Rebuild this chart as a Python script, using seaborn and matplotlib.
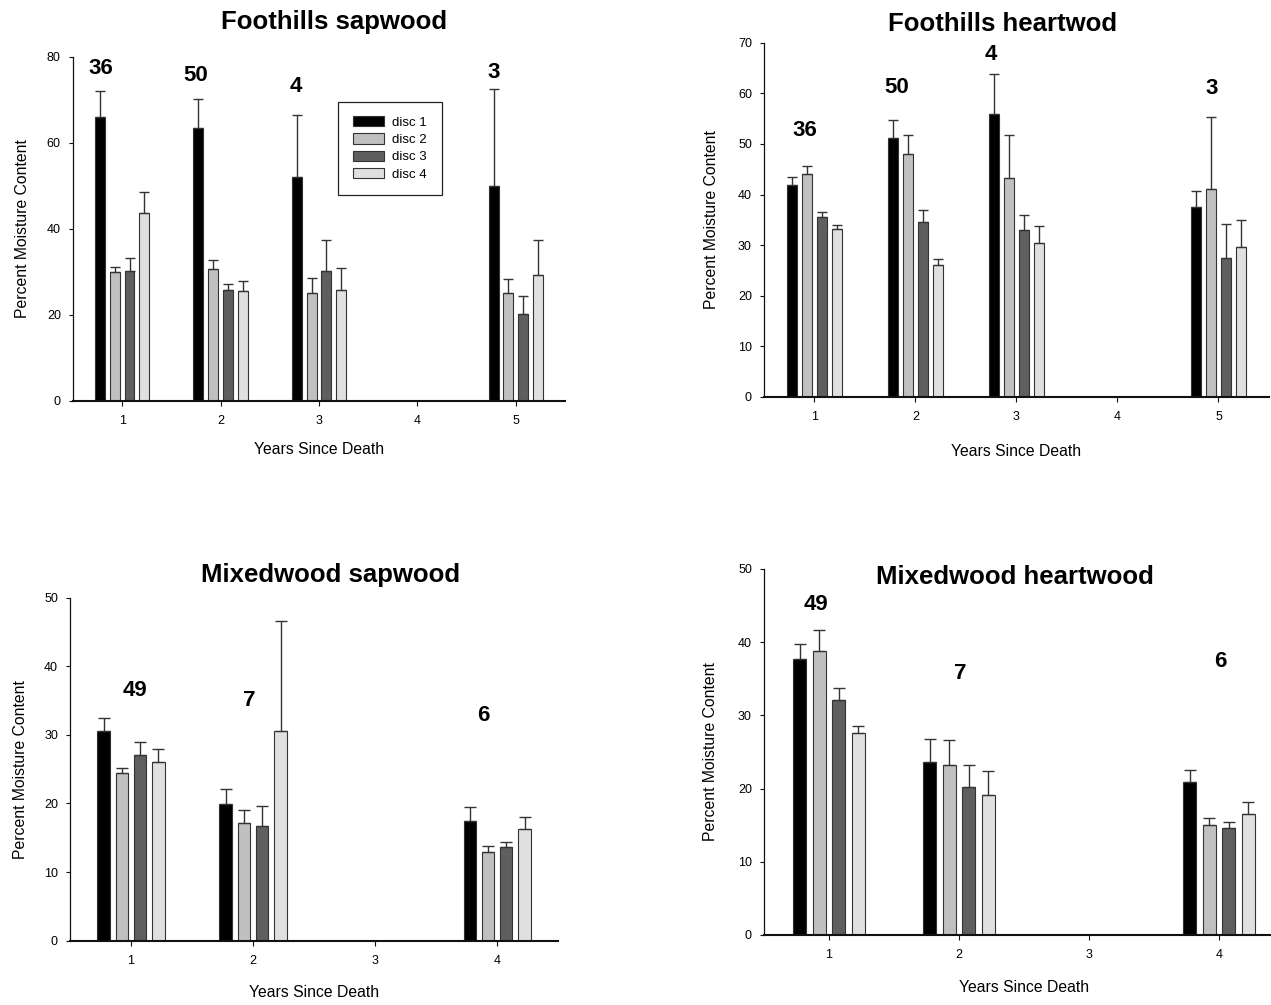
import numpy as np
import pandas as pd
import matplotlib
matplotlib.use("Agg")
import matplotlib.pyplot as plt
import seaborn as sns

# ---------------------------------------------------------------- data
DISCS = ["disc 1", "disc 2", "disc 3", "disc 4"]
DISC_COLORS = ["#000000", "#c0c0c0", "#5f5f5f", "#e0e0e0"]

# Foothills sapwood: mean moisture (%) per disc, rows = disc 1..4, cols = years
fs_categories = [1, 2, 3, 4, 5]
fs_years = [1, 2, 3, 5]
fs_mean = [[66.0, 63.4, 52.0, 50.0],
           [29.9, 30.6, 25.2, 25.0],
           [30.3, 25.9, 30.3, 20.2],
           [43.8, 25.5, 25.9, 29.2]]
fs_se = [[6.2, 6.8, 14.4, 22.5],
         [1.3, 2.2, 3.3, 3.4],
         [2.9, 1.4, 7.2, 4.2],
         [4.8, 2.3, 5.1, 8.3]]
fs_n = [36, 50, 4, 3]

# Foothills heartwood
fh_categories = [1, 2, 3, 4, 5]
fh_years = [1, 2, 3, 5]
fh_mean = [[41.8, 51.2, 55.9, 37.5],
           [44.1, 48.1, 43.2, 41.0],
           [35.5, 34.5, 33.0, 27.5],
           [33.2, 26.1, 30.4, 29.7]]
fh_se = [[1.6, 3.5, 8.0, 3.2],
         [1.5, 3.7, 8.6, 14.3],
         [1.0, 2.4, 2.9, 6.6],
         [0.7, 1.1, 3.4, 5.3]]
fh_n = [36, 50, 4, 3]

# Mixedwood sapwood
ms_categories = [1, 2, 3, 4]
ms_years = [1, 2, 4]
ms_mean = [[30.6, 19.9, 17.5],
           [24.4, 17.1, 12.9],
           [27.0, 16.7, 13.6],
           [26.0, 30.6, 16.3]]
ms_se = [[1.8, 2.2, 2.0],
         [0.8, 2.0, 0.9],
         [1.9, 3.0, 0.8],
         [1.9, 16.0, 1.8]]
ms_n = [49, 7, 6]

# Mixedwood heartwood
mh_categories = [1, 2, 3, 4]
mh_years = [1, 2, 4]
mh_mean = [[37.7, 23.6, 20.9],
           [38.8, 23.2, 15.0],
           [32.1, 20.2, 14.6],
           [27.6, 19.1, 16.5]]
mh_se = [[2.1, 3.1, 1.6],
         [2.9, 3.4, 1.0],
         [1.6, 3.0, 0.8],
         [0.9, 3.3, 1.6]]
mh_n = [49, 7, 6]

# ------------------------------------------------------------- styling
sns.set_style("ticks")
plt.rcParams["font.family"] = ["Liberation Sans", "DejaVu Sans"]
plt.rcParams["text.color"] = "black"
plt.rcParams["axes.labelcolor"] = "black"
plt.rcParams["axes.edgecolor"] = "#111111"
plt.rcParams["xtick.color"] = "#111111"
plt.rcParams["ytick.color"] = "#111111"
plt.rcParams["xtick.labelcolor"] = "black"
plt.rcParams["ytick.labelcolor"] = "black"


def long_frame(years, mean, se):
    rows = []
    for d, disc in enumerate(DISCS):
        for j, yr in enumerate(years):
            rows.append({"year": yr, "disc": disc,
                         "moisture": mean[d][j], "se": se[d][j]})
    return pd.DataFrame(rows)


def draw_panel(ax, title, categories, years, mean, se, ns, ymax, ystep,
               n_dx, n_y, title_xy, capsize, show_legend=False):
    df = long_frame(years, mean, se)
    sns.barplot(data=df, x="year", y="moisture", hue="disc",
                order=categories, hue_order=DISCS, palette=DISC_COLORS,
                width=0.6, gap=0.33, errorbar=None, saturation=1,
                edgecolor="#333333", linewidth=0.8,
                legend=show_legend, ax=ax)

    # one-sided (upper) standard-error bars on top of each bar
    lookup = {(r.year, r.disc): r.se for r in df.itertuples()}
    for disc, container in zip(DISCS, ax.containers):
        for patch in container:
            h = patch.get_height()
            if not np.isfinite(h):
                continue
            cx = patch.get_x() + patch.get_width() / 2
            yr = categories[int(round(cx))]
            ax.errorbar(cx, h, yerr=[[0], [lookup[(yr, disc)]]], fmt="none",
                        ecolor="#333333", elinewidth=1.0, capsize=capsize,
                        capthick=1.0, zorder=4)

    # sample sizes above each year group
    for yr, n, dx, ny in zip(years, ns, n_dx, n_y):
        ax.text(categories.index(yr) + dx, ny, str(n), ha="center",
                va="center", fontsize=16, fontweight="bold", color="black")

    ax.set_xlim(-0.5, len(categories) - 0.5)
    ax.set_ylim(0, ymax)
    ax.set_yticks(np.arange(0, ymax + 0.1, ystep))
    ax.set_xticks(range(len(categories)))
    ax.set_xticklabels([str(c) for c in categories])
    ax.tick_params(axis="y", labelsize=9, length=3.2, width=0.8, pad=5.5)
    ax.tick_params(axis="x", labelsize=9, length=3.6, width=0.8, pad=6.5)
    ax.set_xlabel("Years Since Death", fontsize=11.3)
    ax.set_ylabel("Percent Moisture Content", fontsize=11.3)
    ax.spines["top"].set_visible(False)
    ax.spines["right"].set_visible(False)
    ax.spines["bottom"].set_linewidth(1.5)
    ax.spines["left"].set_linewidth(0.9)
    ax.text(title_xy[0], title_xy[1], title, transform=ax.transAxes,
            ha="center", va="center", fontsize=18.5, fontweight="bold",
            color="black")


fig = plt.figure(figsize=(12.71, 10.05), dpi=100)
ax1 = fig.add_axes([0.0574, 0.601, 0.3871, 0.3423])
ax2 = fig.add_axes([0.6011, 0.605, 0.3973, 0.3525])
ax3 = fig.add_axes([0.0551, 0.064, 0.3840, 0.3413])
ax4 = fig.add_axes([0.6011, 0.0697, 0.4091, 0.3642])

draw_panel(ax1, "Foothills sapwood", fs_categories, fs_years, fs_mean, fs_se,
           fs_n, 80, 20, [-0.22, -0.25, -0.24, -0.23],
           [77.4, 75.8, 73.2, 76.5], (0.53, 1.102), 3.5, show_legend=True)
draw_panel(ax2, "Foothills heartwod", fh_categories, fh_years, fh_mean, fh_se,
           fh_n, 70, 10, [-0.10, -0.19, -0.25, -0.07],
           [52.6, 61.2, 67.6, 61.0], (0.473, 1.054), 3.6)
draw_panel(ax3, "Mixedwood sapwood", ms_categories, ms_years, ms_mean, ms_se,
           ms_n, 50, 10, [0.03, -0.03, -0.11],
           [36.4, 35.0, 32.8], (0.533, 1.066), 4.3)
draw_panel(ax4, "Mixedwood heartwood", mh_categories, mh_years, mh_mean, mh_se,
           mh_n, 50, 10, [-0.10, 0.01, 0.01],
           [45.1, 35.7, 37.4], (0.483, 0.978), 4.6)

# axis label placement
ax1.yaxis.set_label_coords(-0.088, 0.5)
ax2.yaxis.set_label_coords(-0.089, 0.5)
ax3.yaxis.set_label_coords(-0.086, 0.5)
ax4.yaxis.set_label_coords(-0.088, 0.5)
ax1.xaxis.set_label_coords(0.5, -0.119)
ax2.xaxis.set_label_coords(0.5, -0.133)
ax3.xaxis.set_label_coords(0.5, -0.129)
ax4.xaxis.set_label_coords(0.5, -0.123)

# legend box in the first panel
handles, labels = ax1.get_legend_handles_labels()
if ax1.get_legend() is not None:
    ax1.get_legend().remove()
leg = ax1.legend(handles, labels, loc="upper left",
                 bbox_to_anchor=(0.539, 0.870), borderaxespad=0,
                 frameon=True, fancybox=False, shadow=False, framealpha=1,
                 edgecolor="#222222", fontsize=9.5, handlelength=2.4,
                 handleheight=0.8, handletextpad=0.6, labelspacing=0.35,
                 borderpad=1.1, title=None)
leg.get_frame().set_linewidth(0.9)
for t in leg.get_texts():
    t.set_color("black")

fig.savefig("out.png", dpi=100)
